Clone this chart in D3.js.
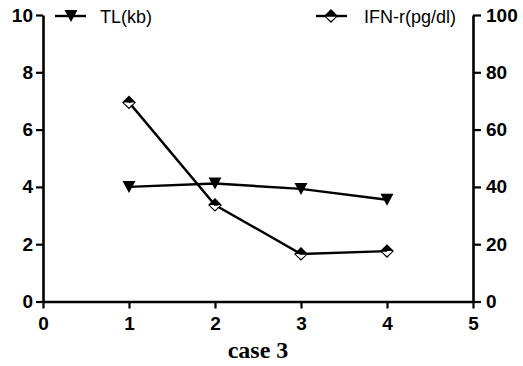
<!DOCTYPE html>
<html><head><meta charset="utf-8">
<script src="https://cdn.jsdelivr.net/npm/d3@7"></script>
<style>body{margin:0;background:#fff}svg{display:block}</style>
</head><body>
<svg id="c" width="523" height="366"></svg>
<script>
const xs = [1, 2, 3, 4];
const tl = [4.0, 4.12, 3.93, 3.55];
const ifn = [69.5, 33.7, 16.6, 17.6];
const xTicks = [0, 1, 2, 3, 4, 5];
const yLeftTicks = [0, 2, 4, 6, 8, 10];
const yRightTicks = [0, 20, 40, 60, 80, 100];
const seriesNames = ["TL(kb)", "IFN-r(pg/dl)"];
const xTitle = "case 3";

const svg = d3.select("#c");
const L = 43, R = 473, T = 15, B = 301.5;
const x = d3.scaleLinear().domain([0, 5]).range([L, R]);
const yl = d3.scaleLinear().domain([0, 10]).range([B, T]);
const yr = d3.scaleLinear().domain([0, 100]).range([B, T]);

const fontT = "Arial, 'Liberation Sans', sans-serif";
function styleAxis(g) {
  g.select(".domain").attr("stroke", "#000").attr("stroke-width", 2.6);
  g.selectAll(".tick line").attr("stroke", "#000").attr("stroke-width", 2.2);
  g.selectAll(".tick text").attr("font-family", fontT).attr("font-weight", "bold")
    .attr("font-size", 19).attr("fill", "#000");
}
const gx = svg.append("g").attr("transform", `translate(0,${B})`)
  .call(d3.axisBottom(x).tickValues(xTicks).tickFormat(d3.format("d")).tickSize(7).tickSizeOuter(0).tickPadding(8));
styleAxis(gx);
const gl = svg.append("g").attr("transform", `translate(${L},0)`)
  .call(d3.axisLeft(yl).tickValues(yLeftTicks).tickFormat(d3.format("d")).tickSize(7).tickSizeOuter(0).tickPadding(3));
styleAxis(gl);
const gr = svg.append("g").attr("transform", `translate(${R},0)`)
  .call(d3.axisRight(yr).tickValues(yRightTicks).tickFormat(d3.format("d")).tickSize(8).tickSizeOuter(0).tickPadding(5));
styleAxis(gr);

svg.append("text").attr("x", 258).attr("y", 358).attr("text-anchor", "middle")
  .attr("font-family", "'Liberation Serif', 'Times New Roman', serif").attr("font-weight", "bold")
  .attr("font-size", 24).text(xTitle);

const line = d3.line();
const tlPts = xs.map((v, i) => [x(v), yl(tl[i])]);
const ifnPts = xs.map((v, i) => [x(v), yr(ifn[i])]);
svg.append("path").attr("d", line(tlPts)).attr("fill", "none").attr("stroke", "#000").attr("stroke-width", 2.4);
svg.append("path").attr("d", line(ifnPts)).attr("fill", "none").attr("stroke", "#000").attr("stroke-width", 2.4);

function tri(g, cx, cy) {
  g.append("path").attr("d", `M${cx-6.5},${cy-6} L${cx+6.5},${cy-6} L${cx},${cy+6} Z`).attr("fill", "#000");
}
function dia(g, cx, cy) {
  const s = 6;
  g.append("path").attr("d", `M${cx-s},${cy} L${cx},${cy-s} L${cx+s},${cy} Z`).attr("fill", "#000");
  g.append("path").attr("d", `M${cx-s},${cy} L${cx},${cy-s} L${cx+s},${cy} L${cx},${cy+s} Z`)
    .attr("fill", "none").attr("stroke", "#000").attr("stroke-width", 1.3);
  g.append("path").attr("d", `M${cx-s+1},${cy+0.7} L${cx},${cy+s-1.5} L${cx+s-1},${cy+0.7} Z`).attr("fill", "#fff");
}
const gm = svg.append("g");
tlPts.forEach(p => tri(gm, p[0], p[1]));
ifnPts.forEach(p => dia(gm, p[0], p[1]));

// legend
const lg = svg.append("g");
lg.append("line").attr("x1", 55).attr("x2", 86).attr("y1", 16).attr("y2", 16).attr("stroke", "#000").attr("stroke-width", 2.4);
tri(lg, 71, 16);
lg.append("text").attr("x", 100).attr("y", 23).attr("font-family", fontT).attr("font-size", 18).text(seriesNames[0]);
lg.append("line").attr("x1", 316).attr("x2", 347).attr("y1", 16).attr("y2", 16).attr("stroke", "#000").attr("stroke-width", 2.4);
dia(lg, 331, 16);
lg.append("text").attr("x", 364).attr("y", 23).attr("font-family", fontT).attr("font-size", 18).text(seriesNames[1]);
</script>
</body></html>
